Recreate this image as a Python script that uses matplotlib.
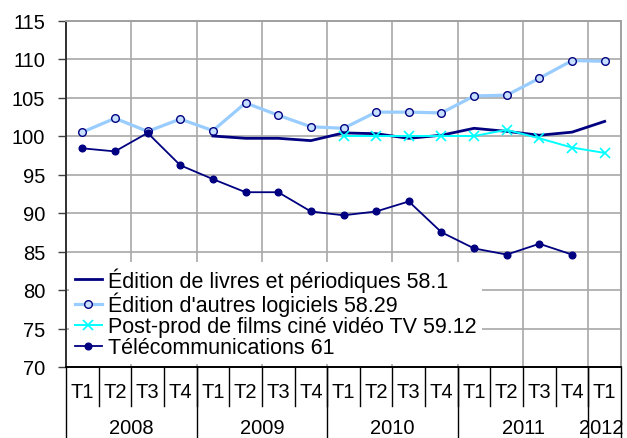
import numpy as np
import matplotlib
matplotlib.use("Agg")
import matplotlib.pyplot as plt
import matplotlib.transforms as mtransforms

plt.rcParams['font.family'] = ['Liberation Sans', 'DejaVu Sans']

# Quarters 2008 T1 .. 2012 T1
quarters = ['T1', 'T2', 'T3', 'T4'] * 4 + ['T1']
years = ['2008', '2009', '2010', '2011', '2012']
nan = np.nan

livres = [nan, nan, nan, nan, 100.0, 99.7, 99.7, 99.4,
          100.4, 100.3, 99.7, 100.1, 101.0, 100.6, 100.1, 100.5, 101.9]
logiciels = [100.5, 102.3, 100.6, 102.2, 100.7, 104.3, 102.7, 101.2,
             101.0, 103.1, 103.1, 103.0, 105.2, 105.3, 107.5, 109.8, 109.7]
postprod = [nan, nan, nan, nan, nan, nan, nan, nan,
            100.0, 100.0, 100.0, 100.0, 100.0, 100.8, 99.7, 98.5, 97.8]
telecom = [98.4, 98.0, 100.4, 96.2, 94.4, 92.7, 92.7, 90.2,
           89.7, 90.2, 91.5, 87.5, 85.4, 84.6, 86.0, 84.6, nan]

labels = ["Édition de livres et périodiques 58.1",
          "Édition d'autres logiciels 58.29",
          "Post-prod de films ciné vidéo TV 59.12",
          "Télécommunications 61"]

fig = plt.figure(figsize=(6.27, 4.39), dpi=100)
ax = fig.add_axes([66 / 627, 1 - 368 / 439, 555 / 627, 346.5 / 439])
x = np.arange(len(quarters))

navy = '#000080'
ax.plot(x, livres, color=navy, lw=2.0, label=labels[0], zorder=4)
ax.plot(x, logiciels, color='#99CCFF', lw=2.3, marker='o', ms=5.5,
        mfc='#C8E0FF', mec=navy, mew=1.0, label=labels[1], zorder=3)
ax.plot(x, postprod, color='#00FFFF', lw=1.4, marker='x', ms=7, mew=1.2,
        label=labels[2], zorder=5)
ax.plot(x, telecom, color=navy, lw=1.3, marker='o', ms=4.8,
        label=labels[3], zorder=4)

ax.set_xlim(-0.5, len(quarters) - 0.5)
ax.set_ylim(70, 115)
ax.set_yticks(np.arange(70, 116, 5))
ax.tick_params(axis='y', labelsize=14.5, length=6, width=1.0, color='#404040', pad=9)
ax.set_xticks([])

# grid
for yv in range(75, 116, 5):
    ax.axhline(yv, color='#B4B4B4', lw=1.4, zorder=1)
for xv in np.arange(1.5, 16, 2):
    ax.axvline(xv, color='#A8A8A8', lw=1.2, zorder=1)
for s in ['top', 'right']:
    ax.spines[s].set_color('#A0A0A0')
    ax.spines[s].set_linewidth(1.4)
ax.spines['left'].set_color('#303030')
ax.spines['left'].set_linewidth(1.4)
ax.spines['bottom'].set_color('black')
ax.spines['bottom'].set_linewidth(1.4)

# two-level category axis
trans = mtransforms.blended_transform_factory(ax.transData, ax.transAxes)
t_bot = -38.5 / 346.5
y_bot = -72 / 346.5
for i, q in enumerate(quarters):
    ax.text(i, -24.5 / 346.5, q, transform=trans, ha='center', va='center',
            fontsize=14.5, clip_on=False)
for i in range(1, len(quarters)):
    ax.plot([i - 0.5, i - 0.5], [0, t_bot], transform=trans, color='black',
            lw=1.0, clip_on=False)
for xb in [-0.5, 3.5, 7.5, 11.5, 15.5, 16.5]:
    ax.plot([xb, xb], [0, y_bot], transform=trans, color='black',
            lw=1.0, clip_on=False)
for k, yr in enumerate(years):
    xc = 4 * k + 1.5 if k < 4 else 15.9
    ax.text(xc, -61 / 346.5, yr, transform=trans, ha='center', va='center',
            fontsize=14.5, clip_on=False)

leg = ax.legend(loc='lower left', bbox_to_anchor=(0.0, 0.0), fontsize=15.5,
                frameon=True, framealpha=1.0, edgecolor='none', facecolor='white',
                handlelength=1.25, handletextpad=0.3, labelspacing=0.0,
                borderpad=0.25, borderaxespad=0.15, fancybox=False)
leg.set_zorder(6)

fig.savefig('out.png', dpi=100)
